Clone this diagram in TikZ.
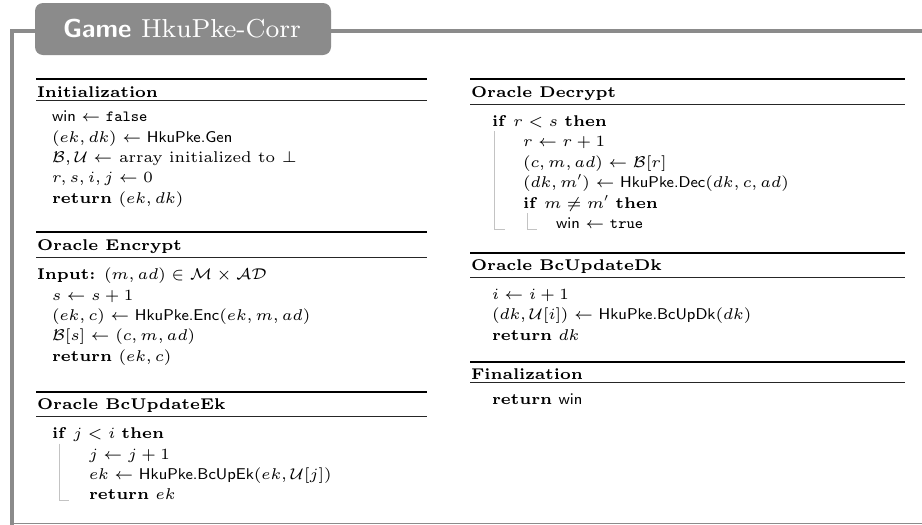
\documentclass[tikz,border=0pt]{standalone}
\usepackage[OT1]{fontenc}
% body fonts: small optical sizes of Computer Modern, at any size
\DeclareFontFamily{OT1}{bodyrm}{}
\DeclareFontShape{OT1}{bodyrm}{m}{n}{<->cmr6}{}
\DeclareFontShape{OT1}{bodyrm}{bx}{n}{<->cmbx6}{}
\DeclareFontShape{OT1}{bodyrm}{b}{n}{<->ssub*bodyrm/bx/n}{}
\DeclareFontFamily{OT1}{bodyss}{}
\DeclareFontShape{OT1}{bodyss}{m}{n}{<->cmss8}{}
\DeclareFontShape{OT1}{bodyss}{bx}{n}{<->cmssbx10}{}
\DeclareFontFamily{OT1}{bodytt}{\hyphenchar\font=-1}
\DeclareFontShape{OT1}{bodytt}{m}{n}{<->cmtt8}{}
\DeclareFontFamily{OML}{bodymi}{\skewchar\font=127}
\DeclareFontShape{OML}{bodymi}{m}{it}{<->cmmi6}{}
\DeclareFontFamily{OMS}{bodysy}{\skewchar\font=48}
\DeclareFontShape{OMS}{bodysy}{m}{n}{<->cmsy6}{}
\DeclareFontFamily{OT1}{titlerm}{}
\DeclareFontShape{OT1}{titlerm}{m}{n}{<->cmr8}{}
\DeclareFontFamily{OT1}{titless}{}
\DeclareFontShape{OT1}{titless}{bx}{n}{<->cmssbx10}{}
\renewcommand{\rmdefault}{bodyrm}
\renewcommand{\sfdefault}{bodyss}
\renewcommand{\ttdefault}{bodytt}
\SetSymbolFont{operators}{normal}{OT1}{bodyrm}{m}{n}
\SetSymbolFont{letters}{normal}{OML}{bodymi}{m}{it}
\SetSymbolFont{symbols}{normal}{OMS}{bodysy}{m}{n}
\definecolor{framegray}{RGB}{139,139,139}
\definecolor{bargray}{RGB}{195,195,195}
\newcommand{\bodysize}{\fontencoding{OT1}\fontsize{7.8}{9}\selectfont}
\begin{document}
\begin{tikzpicture}[x=0.5pt,y=-0.5pt,
  txt/.style={anchor=base west, inner sep=0pt, outer sep=0pt, font=\bodysize},
  head/.style={txt, font=\bodysize\bfseries},
  thickrule/.style={line width=0.95pt, black},
  thinrule/.style={line width=0.5pt, black!85},
  blockbar/.style={draw=bargray, line width=0.5pt}]
\useasboundingbox (0,0) rectangle (922,525);
% frame
\draw[framegray, line width=1.75pt] (12,525) -- (12,30.8) -- (922,30.8);
\draw[framegray, line width=0.6pt] (12,523.6) -- (922,523.6);
\fill[framegray, rounded corners=4pt] (35,3) rectangle (331,55);
\node[anchor=base west, inner sep=0pt, outer sep=0pt, text=white, font=\fontencoding{OT1}\fontsize{13}{15}\selectfont] (title) at (63,37.3) {\fontfamily{titless}\fontseries{bx}\selectfont Game\ \fontfamily{titlerm}\fontseries{m}\selectfont HkuPke-Corr};

% ---------- left column ----------
% Initialization
\draw[thickrule] (36,79) -- (427,79);
\node[head] (hinit) at (37,97.2) {Initialization};
\draw[thinrule] (36,100.7) -- (427,100.7);
\node[txt] (i1) at (52,121.7) {$\textsf{win} \leftarrow \texttt{false}$};
\node[txt] (i2) at (52,142.1) {$(ek, dk) \leftarrow \textsf{HkuPke.Gen}$};
\node[txt] (i3) at (52,162.5) {$\mathcal{B},\mathcal{U} \leftarrow$ array initialized to $\bot$};
\node[txt] (i4) at (52,182.9) {$r, s, i, j \leftarrow 0$};
\node[txt] (i5) at (52,203.3) {\textbf{return} $(ek, dk)$};

% Oracle Encrypt
\draw[thickrule] (36,232) -- (427,232);
\node[head] (henc) at (37,250) {Oracle Encrypt};
\draw[thinrule] (36,257) -- (427,257);
\node[txt] (e0) at (37,279.7) {\textbf{Input:} $(m, ad) \in \mathcal{M} \times \mathcal{AD}$};
\node[txt] (e1) at (52,300.1) {$s \leftarrow s + 1$};
\node[txt] (e2) at (52,320.5) {$(ek, c) \leftarrow \textsf{HkuPke.Enc}(ek, m, ad)$};
\node[txt] (e3) at (52,340.9) {$\mathcal{B}[s] \leftarrow (c, m, ad)$};
\node[txt] (e4) at (52,361.3) {\textbf{return} $(ek, c)$};

% Oracle BcUpdateEk
\draw[thickrule] (36,391.7) -- (427,391.7);
\node[head] (hbce) at (37,409.5) {Oracle BcUpdateEk};
\draw[thinrule] (36,416.7) -- (427,416.7);
\node[txt] (u0) at (52,438.7) {\textbf{if} $j < i$ \textbf{then}};
\node[txt] (u1) at (89,459.1) {$j \leftarrow j + 1$};
\node[txt] (u2) at (89,479.5) {$ek \leftarrow \textsf{HkuPke.BcUpEk}(ek, \mathcal{U}[j])$};
\node[txt] (u3) at (89,499.9) {\textbf{return} $ek$};
\draw[blockbar] (59,443.5) -- (59,500.5) -- (69,500.5);

% ---------- right column ----------
% Oracle Decrypt
\draw[thickrule] (470,79) -- (905,79);
\node[head] (hdec) at (471,97) {Oracle Decrypt};
\draw[thinrule] (470,104) -- (905,104);
\node[txt] (d0) at (492,126) {\textbf{if} $r < s$ \textbf{then}};
\node[txt] (d1) at (523,146.5) {$r \leftarrow r + 1$};
\node[txt] (d2) at (523,167) {$(c, m, ad) \leftarrow \mathcal{B}[r]$};
\node[txt] (d3) at (523,187.5) {$(dk, m') \leftarrow \textsf{HkuPke.Dec}(dk, c, ad)$};
\node[txt] (d4) at (523,208) {\textbf{if} $m \neq m'$ \textbf{then}};
\node[txt] (d5) at (556,228.5) {$\textsf{win} \leftarrow \texttt{true}$};
\draw[blockbar] (494.5,131) -- (494.5,229.5) -- (504.5,229.5);
\draw[blockbar] (527,213) -- (527,229.5) -- (537,229.5);

% Oracle BcUpdateDk
\draw[thickrule] (470,252.7) -- (905,252.7);
\node[head] (hbcd) at (471,270.5) {Oracle BcUpdateDk};
\draw[thinrule] (470,277.7) -- (905,277.7);
\node[txt] (k1) at (492,299.5) {$i \leftarrow i + 1$};
\node[txt] (k2) at (492,319.9) {$(dk, \mathcal{U}[i]) \leftarrow \textsf{HkuPke.BcUpDk}(dk)$};
\node[txt] (k3) at (492,340.3) {\textbf{return} $dk$};

% Finalization
\draw[thickrule] (470,361.7) -- (905,361.7);
\node[head] (hfin) at (471,379) {Finalization};
\draw[thinrule] (470,382.7) -- (905,382.7);
\node[txt] (f1) at (492,404.5) {\textbf{return} \textsf{win}};
\end{tikzpicture}
\end{document}
